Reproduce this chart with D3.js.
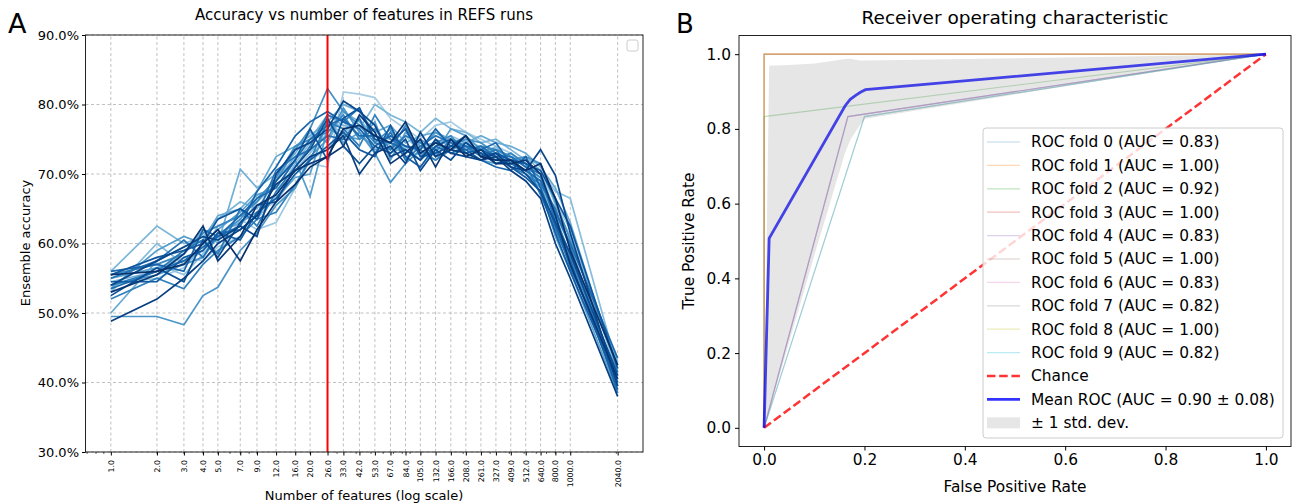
<!DOCTYPE html>
<html>
<head>
<script src="https://d3js.org/d3.v7.min.js"></script>
<style>
  body { margin: 0; background: #fff; }
  svg text { font-family: "DejaVu Sans", sans-serif; fill: #000; }
</style>
</head>
<body>
<script>
// ---- panel A data: accuracy (%) per number of features, one row per REFS run ----
var featureCounts = [1,2,3,4,5,7,9,12,16,20,26,33,42,53,67,84,105,132,166,208,261,327,409,512,640,800,1000,2040];
var minorTicks = [0.7,0.8,0.9,2,3,4,5,6,7,8,9,20,30,40,50,60,70,80,90,200,300,400,500,600,700,800,900,2000];
var accTicks = [0.3,0.4,0.5,0.6,0.7,0.8,0.9];
var bestFeatures = 26;

var refsRuns = [
  [55.0,56.5,58.0,57.5,59.5,61.0,64.5,66.0,70.0,71.5,71.0,81.8,81.5,81.0,78.0,76.5,75.0,77.0,77.5,76.0,75.0,74.0,73.0,71.5,69.0,64.0,60.0,39.5],
  [54.0,55.0,56.5,60.0,58.5,63.5,62.0,63.0,68.0,72.0,73.5,76.0,77.0,76.5,74.0,75.5,73.0,74.5,75.0,74.0,73.5,73.0,72.5,72.0,70.0,66.0,62.0,41.0],
  [55.5,57.0,55.5,58.5,61.0,62.5,66.0,68.5,70.5,73.0,76.0,77.5,75.5,74.0,76.0,73.5,74.5,73.5,75.5,74.5,74.0,72.5,73.0,71.0,69.5,63.0,58.0,40.0],
  [53.0,60.0,57.0,59.0,62.5,64.0,63.5,67.0,71.5,74.5,77.0,76.0,78.0,75.0,73.0,74.0,72.0,75.0,74.0,75.0,72.5,74.0,71.5,72.5,70.5,67.5,66.5,42.0],
  [56.0,62.5,60.0,61.0,63.5,66.0,65.0,69.0,72.5,75.0,78.5,77.0,76.5,80.0,78.5,77.5,76.0,78.0,76.5,76.0,74.5,75.0,73.5,72.0,71.5,65.5,61.0,43.0],
  [54.5,56.0,58.5,62.0,60.0,70.7,68.0,70.0,73.0,76.0,74.5,79.0,77.5,75.5,75.0,73.0,74.0,74.5,73.0,73.5,73.0,72.0,71.5,70.5,68.5,62.5,57.5,39.0],
  [50.0,57.5,59.5,60.5,64.0,65.0,67.5,72.5,74.0,75.5,77.5,80.0,79.0,76.0,77.0,74.5,75.5,76.0,75.0,74.5,75.5,74.5,74.0,73.0,71.0,68.0,63.0,41.5],
  [55.0,56.5,57.5,59.0,61.5,63.0,64.5,66.5,69.5,70.0,78.0,74.5,76.0,73.5,74.5,72.5,73.0,72.0,74.0,73.5,72.0,71.5,72.0,70.0,68.0,61.0,56.0,38.5],
  [53.5,59.0,61.0,60.0,62.0,64.5,67.0,68.0,72.0,66.8,76.5,75.5,75.0,77.5,72.0,76.0,74.0,73.0,76.5,75.5,73.5,73.5,72.5,71.5,70.0,64.5,59.5,40.5],
  [49.5,49.5,48.3,52.5,53.7,59.0,61.5,65.5,68.0,72.5,75.0,79.5,76.0,73.0,68.8,71.5,73.5,76.0,74.5,74.0,73.0,72.5,71.0,70.5,69.0,63.5,58.5,39.5],
  [54.0,55.5,57.0,58.0,61.0,63.5,66.5,69.0,73.5,76.5,82.3,79.0,77.0,74.5,76.5,73.0,75.0,73.5,74.0,75.0,74.5,73.0,72.0,72.5,71.5,66.0,60.5,42.5],
  [55.5,57.0,58.5,61.5,62.5,64.0,66.0,69.5,74.0,75.0,76.0,78.5,75.0,76.5,73.5,77.0,72.5,74.5,75.5,73.0,74.0,73.5,72.5,71.0,69.5,64.0,58.0,41.0],
  [52.0,55.0,53.5,57.0,59.0,61.0,63.5,64.5,68.5,72.0,77.5,76.5,74.0,78.5,75.0,74.0,73.5,72.0,73.5,74.5,73.0,72.0,73.0,71.5,67.0,62.0,57.0,40.0],
  [54.0,56.0,59.0,60.5,58.5,65.0,62.5,67.5,71.0,74.0,78.5,77.5,79.5,74.5,73.5,75.5,74.5,72.5,75.0,74.0,72.5,73.5,71.0,70.0,68.5,65.0,59.5,38.5],
  [55.0,57.5,60.5,58.0,61.5,62.0,64.0,70.5,72.5,73.5,75.5,75.0,78.0,73.0,76.0,72.0,74.0,75.5,74.5,73.5,74.0,72.5,72.5,71.0,70.0,63.0,56.5,41.5],
  [53.5,56.0,57.5,59.5,61.0,64.0,66.5,68.0,72.0,75.0,77.0,78.0,75.5,75.5,74.5,73.5,72.0,74.0,73.0,74.0,73.5,74.5,71.5,70.5,69.0,64.5,60.0,43.5],
  [56.0,57.0,56.0,62.0,61.0,62.5,67.5,71.0,75.5,77.5,79.0,77.5,76.5,74.0,75.5,74.0,73.5,76.5,74.0,73.5,72.0,71.0,70.5,72.5,68.0,62.5,57.5,39.0],
  [54.5,54.5,58.0,59.0,61.5,60.5,64.5,66.5,70.0,72.0,74.0,76.0,73.5,72.5,77.0,72.5,71.0,74.0,75.0,73.0,73.5,72.5,71.0,69.5,67.5,61.5,56.0,40.0],
  [55.5,58.0,59.0,60.0,63.5,65.0,63.5,69.0,72.0,76.5,72.0,78.0,79.5,75.0,74.5,76.5,72.5,73.0,74.0,75.5,72.5,73.0,72.0,71.5,70.5,66.5,62.5,42.0],
  [52.5,56.5,54.5,60.5,58.0,63.0,65.5,66.0,71.0,73.5,78.0,74.0,71.5,74.0,73.0,75.0,70.5,73.5,72.0,74.5,73.0,71.5,72.0,70.0,67.5,63.0,58.5,41.0],
  [54.0,57.5,59.5,61.0,60.5,62.5,61.0,70.0,73.5,74.5,76.5,80.5,79.0,77.0,72.5,73.5,72.0,75.0,73.0,72.5,72.0,73.0,71.0,70.5,73.5,69.8,61.5,39.5],
  [48.8,52.0,55.0,57.5,60.0,62.0,64.0,68.5,70.5,72.5,73.5,75.5,70.0,73.0,74.0,71.5,76.0,72.5,73.5,73.0,72.0,72.5,70.5,69.0,66.5,60.0,55.0,38.0],
  [53.0,55.5,58.5,62.5,57.5,61.0,65.5,67.0,70.5,71.5,72.5,74.0,78.5,76.0,71.5,73.0,75.0,71.0,75.0,72.5,73.5,71.5,71.5,72.0,70.0,64.0,57.0,40.5],
  [55.5,56.0,57.0,60.0,62.0,57.5,62.0,66.0,68.5,71.0,72.5,76.5,77.0,75.5,74.5,77.5,73.0,74.5,73.5,75.5,72.5,72.0,72.0,70.5,71.5,66.5,59.0,42.5]
];

// ---- panel B data: ROC curves per fold ----
var foldAuc = [0.83, 1.00, 0.92, 1.00, 0.83, 1.00, 0.83, 0.82, 1.00, 0.82];
var foldFpr = [[0,0.167,1],[0,0,1],[0,0,1],[0,0,1],[0,0.167,1],[0,0,1],[0,0.167,1],[0,0.2,1],[0,0,1],[0,0.2,1]];
var foldTpr = [[0,0.833,1],[0,1,1],[0,0.833,1],[0,1,1],[0,0.833,1],[0,1,1],[0,0.833,1],[0,0.833,1],[0,1,1],[0,0.833,1]];
var foldColors = ["#1f77b4","#ff7f0e","#2ca02c","#d62728","#9467bd","#8c564b","#e377c2","#7f7f7f","#bcbd22","#17becf"];
var meanFpr = [0, 0.0101, 0.1616, 0.1717, 0.1818, 0.1919, 0.202, 1];
var meanTpr = [0, 0.507, 0.862, 0.879, 0.889, 0.898, 0.905, 1];
var bandFpr   = [0, 0.0101, 0.0505, 0.101, 0.1616, 0.1717, 0.1818, 0.1919, 0.202, 0.6, 1];
var bandLower = [0, 0.045, 0.232, 0.465, 0.737, 0.770, 0.792, 0.812, 0.827, 0.914, 1];
var bandUpper = [0, 0.969, 0.971, 0.975, 0.987, 0.988, 0.985, 0.983, 0.983, 0.991, 1];
var meanAuc = 0.90, stdAuc = 0.08;
var rateTicks = [0, 0.2, 0.4, 0.6, 0.8, 1.0];

var svg = d3.select("body").append("svg")
    .attr("width", 1295)
    .attr("height", 504);

// ================= panel A =================
var lo = featureCounts[0], hi = featureCounts[featureCounts.length - 1];
var pad = Math.pow(hi / lo, 0.05);
var xA = d3.scaleLog().domain([lo / pad, hi * pad]).range([85.5, 643]);
var yA = d3.scaleLinear().domain([0.3, 0.9]).range([452, 35]);

var gA = svg.append("g");

// dashed grid
gA.selectAll(".vgrid").data(featureCounts).enter().append("line")
    .attr("x1", d => xA(d)).attr("x2", d => xA(d))
    .attr("y1", yA(0.3)).attr("y2", yA(0.9))
    .style("stroke", "#b0b0b0").style("stroke-width", 0.8).style("stroke-dasharray", "3,2.5");
gA.selectAll(".hgrid").data(accTicks).enter().append("line")
    .attr("x1", xA.range()[0]).attr("x2", xA.range()[1])
    .attr("y1", d => yA(d)).attr("y2", d => yA(d))
    .style("stroke", "#b0b0b0").style("stroke-width", 0.8).style("stroke-dasharray", "3,2.5");

// runs, light to dark
var lineA = d3.line()
    .x((d, i) => xA(featureCounts[i]))
    .y(d => yA(d / 100));
gA.selectAll(".run").data(refsRuns).enter().append("path")
    .attr("d", lineA)
    .style("fill", "none")
    .style("stroke", (d, i) => d3.interpolateBlues(0.35 + 0.65 * i / (refsRuns.length - 1)))
    .style("stroke-width", 1.7);

// chosen number of features
gA.append("line")
    .attr("x1", xA(bestFeatures)).attr("x2", xA(bestFeatures))
    .attr("y1", yA(0.3)).attr("y2", yA(0.9))
    .style("stroke", "red").style("stroke-width", 2);

// frame
gA.append("rect")
    .attr("x", xA.range()[0]).attr("y", yA(0.9))
    .attr("width", xA.range()[1] - xA.range()[0]).attr("height", yA(0.3) - yA(0.9))
    .style("fill", "none").style("stroke", "#222").style("stroke-width", 1);

// empty legend box
gA.append("rect")
    .attr("x", 627).attr("y", 40).attr("width", 11).attr("height", 11).attr("rx", 2)
    .style("fill", "#fff").style("stroke", "#ccc");

// axes
var axXA = gA.append("g").attr("transform", "translate(0," + yA(0.3) + ")")
    .call(d3.axisBottom(xA).tickValues(featureCounts).tickFormat(d => d.toFixed(1)).tickSize(3.5));
axXA.select(".domain").remove();
axXA.selectAll("text")
    .attr("transform", "rotate(-90)")
    .attr("x", -8).attr("y", 0).attr("dy", "0.32em")
    .style("text-anchor", "end").style("font-size", "7.8px");
gA.selectAll(".minor").data(minorTicks).enter().append("line")
    .attr("x1", d => xA(d)).attr("x2", d => xA(d))
    .attr("y1", yA(0.3)).attr("y2", yA(0.3) + 2)
    .style("stroke", "#000").style("stroke-width", 0.6);

var axYA = gA.append("g").attr("transform", "translate(" + xA.range()[0] + ",0)")
    .call(d3.axisLeft(yA).tickValues(accTicks).tickFormat(d => (d * 100).toFixed(1) + "%").tickSize(3.5));
axYA.select(".domain").remove();
axYA.selectAll("text").style("font-size", "13px");

gA.append("text").attr("x", 364).attr("y", 20).attr("text-anchor", "middle")
    .style("font-size", "15px").text("Accuracy vs number of features in REFS runs");
gA.append("text").attr("x", 364).attr("y", 500).attr("text-anchor", "middle")
    .style("font-size", "13px").text("Number of features (log scale)");
gA.append("text").attr("transform", "translate(30,243) rotate(-90)").attr("text-anchor", "middle")
    .style("font-size", "13px").text("Ensemble accuracy");
gA.append("text").attr("x", 8).attr("y", 33).style("font-size", "27px").text("A");

// ================= panel B =================
var xB = d3.scaleLinear().domain([-0.05, 1.05]).range([739, 1291]);
var yB = d3.scaleLinear().domain([-0.05, 1.05]).range([446.5, 35.5]);
var gB = svg.append("g");
var fsB = "15.4px";

var lineB = d3.line().x(d => xB(d[0])).y(d => yB(d[1]));

foldFpr.forEach(function(f, k) {
  gB.append("path")
    .attr("d", lineB(f.map((v, j) => [v, foldTpr[k][j]])))
    .style("fill", "none").style("stroke", foldColors[k])
    .style("stroke-width", 1.2).style("stroke-opacity", 0.3);
});

gB.append("path")
    .attr("d", lineB([[0, 0], [1, 1]]))
    .style("fill", "none").style("stroke", "red").style("stroke-opacity", 0.8)
    .style("stroke-width", 2.5).style("stroke-dasharray", "8.5,3.7");

gB.append("path")
    .attr("d", lineB(meanFpr.map((v, j) => [v, meanTpr[j]])))
    .style("fill", "none").style("stroke", "blue").style("stroke-opacity", 0.8)
    .style("stroke-width", 2.8);

var areaB = d3.area()
    .x((d, i) => xB(bandFpr[i]))
    .y0((d, i) => yB(bandLower[i]))
    .y1((d, i) => yB(bandUpper[i]));
gB.append("path").attr("d", areaB(bandFpr))
    .style("fill", "grey").style("fill-opacity", 0.2);

gB.append("rect")
    .attr("x", 739).attr("y", 35.5).attr("width", 552).attr("height", 411)
    .style("fill", "none").style("stroke", "#222").style("stroke-width", 1);

var axXB = gB.append("g").attr("transform", "translate(0,446.5)")
    .call(d3.axisBottom(xB).tickValues(rateTicks).tickFormat(d3.format(".1f")).tickSize(4).tickPadding(4));
axXB.select(".domain").remove();
axXB.selectAll("text").style("font-size", fsB);
var axYB = gB.append("g").attr("transform", "translate(739,0)")
    .call(d3.axisLeft(yB).tickValues(rateTicks).tickFormat(d3.format(".1f")).tickSize(4).tickPadding(4));
axYB.select(".domain").remove();
axYB.selectAll("text").style("font-size", fsB);

gB.append("text").attr("x", 1015).attr("y", 24).attr("text-anchor", "middle")
    .style("font-size", "18.5px").text("Receiver operating characteristic");
gB.append("text").attr("x", 1015).attr("y", 492).attr("text-anchor", "middle")
    .style("font-size", fsB).text("False Positive Rate");
gB.append("text").attr("transform", "translate(694,241) rotate(-90)").attr("text-anchor", "middle")
    .style("font-size", fsB).text("True Positive Rate");
gB.append("text").attr("x", 676).attr("y", 33).style("font-size", "26px").text("B");

// legend
var legend = gB.append("g");
legend.append("rect")
    .attr("x", 983).attr("y", 128).attr("width", 300).attr("height", 310).attr("rx", 3)
    .style("fill", "#fff").style("fill-opacity", 0.8).style("stroke", "#ccc");
var rowY = i => 142 + i * 23.4;
foldAuc.forEach(function(a, k) {
  legend.append("line").attr("x1", 987).attr("x2", 1020).attr("y1", rowY(k)).attr("y2", rowY(k))
    .style("stroke", foldColors[k]).style("stroke-opacity", 0.3).style("stroke-width", 1.2);
  legend.append("text").attr("x", 1031).attr("y", rowY(k)).attr("dy", "0.35em")
    .style("font-size", fsB).text("ROC fold " + k + " (AUC = " + a.toFixed(2) + ")");
});
legend.append("line").attr("x1", 987).attr("x2", 1020).attr("y1", rowY(10)).attr("y2", rowY(10))
    .style("stroke", "red").style("stroke-opacity", 0.8).style("stroke-width", 2.5).style("stroke-dasharray", "8.5,3.7");
legend.append("text").attr("x", 1031).attr("y", rowY(10)).attr("dy", "0.35em")
    .style("font-size", fsB).text("Chance");
legend.append("line").attr("x1", 987).attr("x2", 1020).attr("y1", rowY(11)).attr("y2", rowY(11))
    .style("stroke", "blue").style("stroke-opacity", 0.8).style("stroke-width", 2.8);
legend.append("text").attr("x", 1031).attr("y", rowY(11)).attr("dy", "0.35em")
    .style("font-size", fsB).text("Mean ROC (AUC = " + meanAuc.toFixed(2) + " \u00b1 " + stdAuc.toFixed(2) + ")");
legend.append("rect").attr("x", 987).attr("y", rowY(12) - 5.5).attr("width", 33).attr("height", 11)
    .style("fill", "grey").style("fill-opacity", 0.2);
legend.append("text").attr("x", 1031).attr("y", rowY(12)).attr("dy", "0.35em")
    .style("font-size", fsB).text("\u00b1 1 std. dev.");
</script>
</body>
</html>
